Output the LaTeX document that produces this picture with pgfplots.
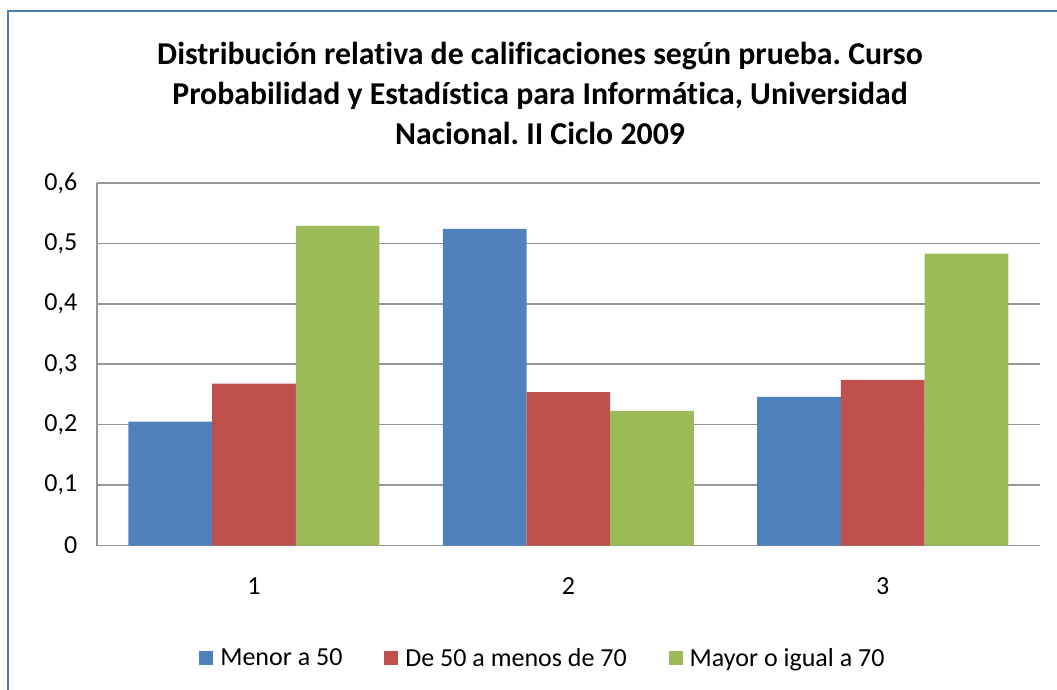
\documentclass[border=0pt]{standalone}
\usepackage{pgfplots}
\pgfplotsset{compat=1.18}
\usepackage{fontspec}
\setmainfont{Carlito}[Ligatures=NoCommon]
\frenchspacing
\definecolor{cblue}{HTML}{4F81BD}
\definecolor{cred}{HTML}{C0504D}
\definecolor{cgreen}{HTML}{9BBB59}
\definecolor{frame}{HTML}{4A7EBB}
\definecolor{axgray}{HTML}{969696}
\begin{document}
\begin{tikzpicture}
\path[use as bounding box] (0bp,0bp) rectangle (1057bp,690bp);
\draw[color=frame, line width=2.2bp] (8bp,-5bp) -- (8bp,679bp) -- (1065bp,679bp);
\node[font=\fontsize{31.8bp}{40bp}\selectfont\bfseries, align=center] at (540bp,597bp)
  {Distribución relativa de calificaciones según prueba. Curso\\Probabilidad y Estadística para Informática, Universidad\\Nacional. II Ciclo 2009};
\begin{axis}[
  at={(96.7bp,144.5bp)}, anchor=south west,
  scale only axis, width=943.3bp, height=362.5bp,
  xmin=0.5, xmax=3.5, ymin=0, ymax=0.6,
  xtick={1,2,3}, ytick={0,0.1,0.2,0.3,0.4,0.5,0.6},
  axis lines=left,
  axis line style={-, draw=axgray, line width=1.6bp},
  ymajorgrids,
  grid style={draw=axgray, line width=1.6bp},
  major tick length=0pt,
  ticklabel style={font=\fontsize{26bp}{31bp}\selectfont},
  yticklabel style={xshift=-16bp},
  xticklabel style={yshift=-29bp},
  /pgf/number format/.cd, use comma, fixed, precision=1, assume math mode=true,
  /pgfplots/.cd,
  ybar=0pt, bar width=83.7bp,
  legend columns=3,
  legend style={at={(0.473,-0.31)}, anchor=center, draw=none,
    font=\fontsize{26bp}{31bp}\selectfont,
    /tikz/every even column/.append style={column sep=40bp}},
  legend image code/.code={\fill[#1] (0bp,-7bp) rectangle (14bp,7bp); \path (19bp,0bp);},
]
\addplot[fill=cblue, draw=none] coordinates {(1,0.205) (2,0.524) (3,0.246)};
\addplot[fill=cred, draw=none] coordinates {(1,0.268) (2,0.254) (3,0.274)};
\addplot[fill=cgreen, draw=none] coordinates {(1,0.529) (2,0.223) (3,0.483)};
\legend{Menor a 50, De 50 a menos de 70, Mayor o igual a 70}
\end{axis}
\end{tikzpicture}
\end{document}
